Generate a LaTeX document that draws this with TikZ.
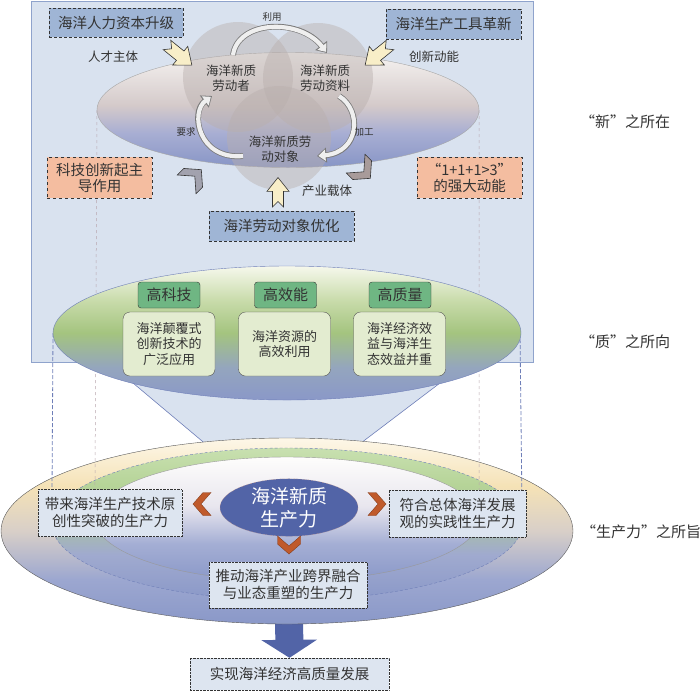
\documentclass[tikz,border=0pt]{standalone}
\usepackage{fontspec}
\setmainfont{Noto Sans CJK SC}
\usepackage{tikz}
\usetikzlibrary{shapes.geometric,arrows.meta}
\definecolor{panelblue}{HTML}{D9E2EF}
\definecolor{panelline}{HTML}{8FA3CC}
\definecolor{steelbox}{HTML}{9FB5D5}
\definecolor{salmon}{HTML}{F4BDA0}
\definecolor{headgreen}{HTML}{6FB683}
\definecolor{cellgreen}{HTML}{E3ECD0}
\definecolor{seablue}{HTML}{8A98C8}
\definecolor{navy}{HTML}{5264A7}
\definecolor{rust}{HTML}{C05A2B}
\definecolor{slate}{HTML}{A2A2AE}
\definecolor{taupe}{HTML}{A89B9A}
\definecolor{cream}{HTML}{F8EEC8}
\definecolor{inkgray}{HTML}{333333}
\definecolor{paleblue}{HTML}{DDE5F0}
\definecolor{mist}{HTML}{B9AFAD}
\definecolor{guidepink}{HTML}{B8A6AE}
\definecolor{guideblue}{HTML}{6F7FB8}
\definecolor{arcline}{HTML}{7A7A7A}
\definecolor{arcbody}{HTML}{EFEFEF}

% shadings: 25bp = bottom of the shape, 75bp = top
\pgfdeclareverticalshading{outershade}{100bp}{color(0bp)=(seablue); color(25bp)=(seablue);
  color(37bp)=(rgb,255:red,156;green,167;blue,208); color(50bp)=(rgb,255:red,216;green,207;blue,200);
  color(62bp)=(rgb,255:red,245;green,226;blue,182); color(75bp)=(rgb,255:red,253;green,247;blue,232);
  color(100bp)=(rgb,255:red,253;green,247;blue,232)}
\pgfdeclareverticalshading{bandshade}{100bp}{color(0bp)=(seablue); color(25bp)=(seablue);
  color(40bp)=(rgb,255:red,160;green,170;blue,207); color(52bp)=(rgb,255:red,170;green,196;blue,156);
  color(63bp)=(rgb,255:red,182;green,212;blue,152); color(75bp)=(rgb,255:red,200;green,224;blue,176);
  color(100bp)=(rgb,255:red,200;green,224;blue,176)}
\pgfdeclareverticalshading{innershade}{100bp}{color(0bp)=(seablue); color(25bp)=(seablue);
  color(40bp)=(rgb,255:red,164;green,174;blue,212); color(55bp)=(rgb,255:red,232;green,230;blue,238);
  color(75bp)=(rgb,255:red,254;green,253;blue,252); color(100bp)=(rgb,255:red,254;green,253;blue,252)}
\pgfdeclareverticalshading{hullshade}{100bp}{color(0bp)=(rgb,255:red,135;green,149;blue,198); color(25bp)=(rgb,255:red,135;green,149;blue,198);
  color(40bp)=(rgb,255:red,168;green,174;blue,211); color(52bp)=(rgb,255:red,212;green,202;blue,202);
  color(75bp)=(rgb,255:red,246;green,243;blue,241); color(100bp)=(rgb,255:red,246;green,243;blue,241)}
\pgfdeclareverticalshading{leafshade}{100bp}{color(0bp)=(seablue); color(25bp)=(seablue);
  color(37bp)=(rgb,255:red,148;green,165;blue,190); color(50bp)=(rgb,255:red,164;green,196;blue,127);
  color(62bp)=(rgb,255:red,200;green,219;blue,170); color(75bp)=(rgb,255:red,246;green,248;blue,236);
  color(100bp)=(rgb,255:red,246;green,248;blue,236)}

\begin{document}
\begin{tikzpicture}[x=1pt,y=-1pt,font=\fontsize{14.5}{17}\selectfont,text=inkgray,
  tagbox/.style={draw=inkgray,densely dashed,fill=steelbox,minimum height=30pt,inner sep=0pt},
  hotbox/.style={draw=inkgray,dashed,fill=salmon,minimum width=105pt,minimum height=41pt,
                 align=center,inner sep=0pt,font=\fontsize{14.5}{16}\selectfont},
  headbox/.style={draw=inkgray,fill=headgreen,rounded corners=3pt,minimum width=62pt,
                  minimum height=26pt,inner sep=0pt,font=\fontsize{15}{17}\selectfont},
  cellbox/.style={draw=inkgray!85,fill=cellgreen,rounded corners=7pt,minimum width=92pt,
                  minimum height=64pt,align=center,inner sep=0pt,font=\fontsize{13}{15.5}\selectfont},
  prodbox/.style={draw=inkgray,densely dotted,fill=paleblue,align=center,inner sep=0pt,minimum height=47pt},
  blob/.style={ellipse,inner sep=0pt},
  venn/.style={circle,fill=mist,fill opacity=.45,inner sep=0pt},
  smalltxt/.style={font=\fontsize{12.5}{15}\selectfont},
  notetxt/.style={font=\fontsize{9.5}{11}\selectfont},
  sidetxt/.style={font=\fontsize{15}{18}\selectfont},
  fatarc/.style={draw=arcbody,line width=4.2pt,-{Triangle[length=7pt,width=11pt]},shorten >=1.4pt,
                 preaction={draw=arcline,line width=5.8pt,-{Triangle[length=9.5pt,width=14.5pt]},shorten >=0pt}},
  yarrow/.pic={\path[pic actions] (0,-6)--(17,-6)--(17,-12)--(32,0)--(17,12)--(17,6)--(0,6)--(6,0)--cycle;},
  chev/.pic={\path[pic actions] (-9,-11.5)--(-1,-11.5)--(9,0)--(-1,11.5)--(-9,11.5)--(1,0)--cycle;}]
  \useasboundingbox (0,0) rectangle (700,694);

  % top panel and funnel
  \filldraw[fill=panelblue,draw=panelline,line width=0.8pt] (31,1) rectangle (533,362);
  \fill[panelblue] (133,383) -- (208,446) -- (357,446) -- (440,383) -- cycle;
  \draw[guideblue,line width=0.6pt] (133,383) -- (208,446) (440,383) -- (357,446);

  % goal and big arrow
  \node[prodbox,minimum width=199pt,minimum height=32pt] (goal) at (289.5,674) {实现海洋经济高质量发展};
  \coordinate (stem) at (289,612);
  \draw[navy,line width=28pt,-{Triangle[length=18pt,width=55pt]}] (stem) -- (goal.north);

  % "生产力" layer
  \node[blob,draw=gray!70!black,shading=outershade,minimum width=572pt,minimum height=186pt] (outer) at (287,531) {};
  \node[blob,draw=guideblue,densely dashed,shading=bandshade,minimum width=470pt,minimum height=152pt] (mid) at (287,524) {};
  \node[blob,draw=gray!80,shading=innershade,minimum width=384pt,minimum height=124pt] (inner) at (287,519) {};

  % guide lines
  \coordinate (tw) at (97,110);  \coordinate (te) at (479,110);
  \coordinate (gw) at (53,333);  \coordinate (ge) at (520,333);
  \draw[guidepink,line width=0.5pt,dashed] (tw) -- (inner.west) (te) -- (inner.east);
  \draw[guideblue,line width=0.8pt,dash pattern=on 4pt off 2pt] (gw) -- (mid.west) (ge) -- (mid.east);

  % "质" layer
  \node[blob,draw=guideblue,shading=leafshade,minimum width=468pt,minimum height=134pt] (green) at (287,333) {};
  \node[headbox] (hk) at (169,295) {高科技};
  \node[headbox] (he) at (285.5,295) {高效能};
  \node[headbox] (hq) at (400,295) {高质量};
  \node[cellbox] (ck) at (169,344) {海洋颠覆式\\创新技术的\\广泛应用};
  \node[cellbox] (ce) at (284.5,344) {海洋资源的\\高效利用};
  \node[cellbox] (cq) at (399.5,344) {海洋经济效\\益与海洋生\\态效益并重};

  % "新" layer
  \node[blob,draw=gray!70,shading=hullshade,minimum width=382pt,minimum height=115pt] (top) at (288,110) {};
  \node[venn,minimum size=110pt] (c1) at (238,77) {};
  \node[venn,minimum size=110pt] (c2) at (318,78) {};
  \node[venn,minimum size=104pt] (c3) at (279,138) {};
  \node[smalltxt,align=center] (t1) at (231,78) {海洋新质\\劳动者};
  \node[smalltxt,align=center] (t2) at (325,78) {海洋新质\\劳动资料};
  \node[smalltxt,align=center] (t3) at (280,149) {海洋新质劳\\动对象};

  \coordinate (u1) at (233,55);  \coordinate (u2) at (327,53);
  \coordinate (g1) at (339,96);  \coordinate (g2) at (317,156);
  \coordinate (r1) at (243,156); \coordinate (r2) at (212,96);
  \draw[fatarc] (u1) .. controls (238,20) and (300,18) .. (u2);
  \draw[fatarc] (g1) .. controls (362,110) and (360,152) .. (g2);
  \draw[fatarc] (r1) .. controls (198,160) and (190,112) .. (r2);
  \node[notetxt] (ly) at (272,17) {利用};
  \node[notetxt] (lj) at (364,132) {加工};
  \node[notetxt] (lq) at (186,132) {要求};

  \node[tagbox,minimum width=134pt,minimum height=29pt] (hr) at (116,22.5) {海洋人力资本升级};
  \node[tagbox,minimum width=135pt] (tool) at (453.5,24) {海洋生产工具革新};
  \node[tagbox,minimum width=145pt] (obj) at (281.5,226) {海洋劳动对象优化};
  \node[smalltxt] (rc) at (113,57) {人才主体};
  \node[smalltxt] (cx) at (434,57) {创新动能};
  \node[smalltxt] (cy) at (327,191) {产业载体};
  \pic[fill=cream,draw=inkgray,line width=0.6pt,rotate=-39] at (167,45) {yarrow};
  \pic[fill=cream,draw=inkgray,line width=0.6pt,rotate=-141] at (390,45) {yarrow};
  \pic[fill=cream,draw=inkgray,line width=0.6pt,rotate=90,scale=0.92] at (278,207) {yarrow};

  \node[hotbox] (kj) at (99.5,177.5) {科技创新起主\\导作用};
  \node[hotbox] (syn) at (469.5,177.5) {“1+1+1>3”\\的强大动能};
  \pic[fill=slate,draw=inkgray,line width=0.6pt,rotate=45,scale=1.15] at (194,177) {chev};
  \pic[fill=taupe,draw=inkgray,line width=0.6pt,rotate=-45,scale=1.15] at (363,171) {chev};

  % core and outcomes
  \node[blob,fill=navy,draw=rust!60,densely dotted,minimum width=138pt,minimum height=49pt,
        text=white,align=center,font=\fontsize{19}{23}\selectfont] (core) at (289,507.5) {海洋新质\\生产力};
  \node[prodbox,minimum width=144pt] (pl) at (110,513) {带来海洋生产技术原\\创性突破的生产力};
  \node[prodbox,minimum width=137pt] (pr) at (457.5,513.5) {符合总体海洋发展\\观的实践性生产力};
  \node[prodbox,minimum width=158pt,minimum height=46pt] (pm) at (288,585) {推动海洋产业跨界融合\\与业态重塑的生产力};
  \pic[fill=rust,draw=rust!70!black,line width=0.4pt,rotate=180] at (202,504) {chev};
  \pic[fill=rust,draw=rust!70!black,line width=0.4pt] at (377,504) {chev};
  \pic[fill=rust,draw=rust!70!black,line width=0.4pt,rotate=-90] at (289,545) {chev};

  \node[sidetxt] (s1) at (625,122) {“新”之所在};
  \node[sidetxt] (s2) at (625,342) {“质”之所向};
  \node[sidetxt] (s3) at (641,532) {“生产力”之所旨};
\end{tikzpicture}
\end{document}
